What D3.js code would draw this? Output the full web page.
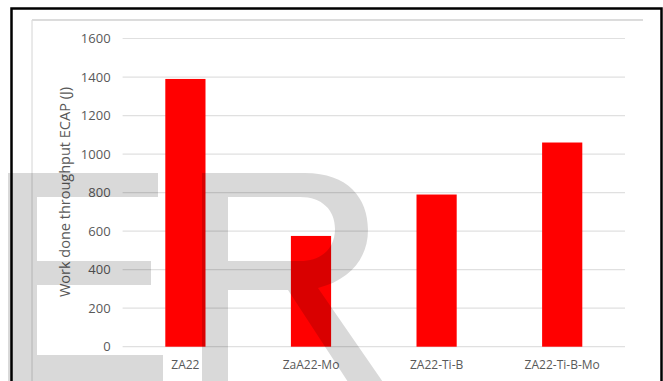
<!DOCTYPE html>
<html>
<head>
<meta charset="utf-8">
<script src="https://cdn.jsdelivr.net/npm/d3@7"></script>
<style>
  html, body { margin: 0; padding: 0; background: #fff; }
  svg { display: block; }
</style>
</head>
<body>
<svg id="chart"></svg>
<script>
// data
const categories = ["ZA22", "ZaA22-Mo", "ZA22-Ti-B", "ZA22-Ti-B-Mo"];
const workDone = [1390, 575, 790, 1060];
const yTicks = [0, 200, 400, 600, 800, 1000, 1200, 1400, 1600];
const yTitle = "Work done throughput ECAP (J)";

const width = 663;
const height = 381;
const margin = { top: 38.5, right: 38, bottom: 34.3, left: 122.6 };

const svg = d3.select("#chart")
    .attr("width", width)
    .attr("height", height);

// chart area frame (only left and top edges show)
svg.append("line")
    .attr("x1", 32).attr("x2", 32)
    .attr("y1", 20).attr("y2", height)
    .attr("stroke", "#d4d4d4").attr("stroke-width", 1);
svg.append("line")
    .attr("x1", 32).attr("x2", 643)
    .attr("y1", 20).attr("y2", 20)
    .attr("stroke", "#dcdcdc").attr("stroke-width", 2);

const x = d3.scaleBand()
    .domain(categories)
    .range([margin.left, width - margin.right])
    .paddingInner(0.68)
    .paddingOuter(0.34);

const y = d3.scaleLinear()
    .domain([0, 1600])
    .range([height - margin.bottom, margin.top]);

// gridlines
svg.append("g")
    .selectAll("line")
    .data(yTicks)
    .join("line")
    .attr("x1", margin.left)
    .attr("x2", width - margin.right)
    .attr("y1", d => y(d))
    .attr("y2", d => y(d))
    .attr("stroke", "#e0e0e0")
    .attr("stroke-width", 1.2);

// y axis labels
const yAxis = svg.append("g")
    .attr("transform", `translate(${margin.left}, 0)`)
    .call(d3.axisLeft(y).tickValues(yTicks).tickFormat(d3.format("d")).tickSize(0).tickPadding(12));
yAxis.select(".domain").remove();
yAxis.selectAll("text")
    .attr("font-family", "'Open Sans', sans-serif")
    .attr("font-size", "13px")
    .attr("fill", "#595959");

// x axis labels
const xAxis = svg.append("g")
    .attr("transform", `translate(0, ${y(0)})`)
    .call(d3.axisBottom(x).tickSize(0).tickPadding(14));
xAxis.select(".domain").remove();
xAxis.selectAll("text")
    .attr("font-family", "'Open Sans', sans-serif")
    .attr("font-size", "12px")
    .attr("fill", "#595959");

// bars
svg.append("g")
    .selectAll("rect")
    .data(categories)
    .join("rect")
    .attr("x", d => x(d))
    .attr("width", x.bandwidth())
    .attr("y", (d, i) => y(workDone[i]))
    .attr("height", (d, i) => y(0) - y(workDone[i]))
    .attr("fill", "#ff0000");

// y title
svg.append("text")
    .attr("transform", `translate(70, 192) rotate(-90)`)
    .attr("text-anchor", "middle")
    .attr("font-family", "'Open Sans', sans-serif")
    .attr("font-size", "14.5px")
    .attr("fill", "#595959")
    .text(yTitle);

// big grey "ER" watermark laid over the chart
const mark = svg.append("g")
    .attr("fill", "#000")
    .attr("fill-opacity", 0.15);
mark.append("path")
    .attr("d", "M8,173 H158 V197 H37 V261 H151 V285 H37 V355 H163 V385 H8 Z");
mark.append("path")
    .attr("fill-rule", "evenodd")
    .attr("d", "M202,173 H305 C348,173 368,198 368,230 C368,258 350,280 318,288 L385,385 H350 L288,290 H228 V385 H202 Z " +
               "M228,197 H300 C322,197 335,210 335,229 C335,248 322,261 300,261 H228 Z");

// outer black border
svg.append("rect")
    .attr("x", 11.5).attr("y", 8.5)
    .attr("width", 650).attr("height", 400)
    .attr("fill", "none")
    .attr("stroke", "#000")
    .attr("stroke-width", 2.5);
</script>
</body>
</html>
